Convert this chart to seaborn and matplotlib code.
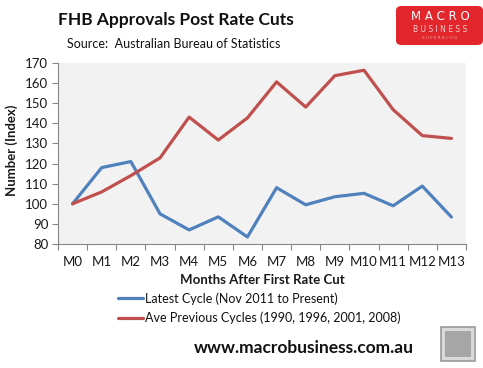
import matplotlib
matplotlib.use("Agg")
import matplotlib.pyplot as plt
import seaborn as sns
import pandas as pd
import numpy as np
from matplotlib.patches import FancyBboxPatch, Rectangle
from matplotlib.ticker import MultipleLocator, FixedLocator
from matplotlib.lines import Line2D

months = ["M0", "M1", "M2", "M3", "M4", "M5", "M6", "M7", "M8", "M9", "M10", "M11", "M12", "M13"]
latest = [100, 118, 121, 95, 87, 93.5, 83.5, 108, 99.5, 103.5, 105.2, 99, 108.8, 93.4]
previous = [100, 105.9, 114, 122.8, 143.1, 131.7, 142.7, 160.6, 148.1, 163.7, 166.4, 146.8, 133.9, 132.5]
series_names = ["Latest Cycle (Nov 2011 to Present)", "Ave Previous Cycles (1990, 1996, 2001, 2008)"]
colors = ["#4F81BD", "#C0504D"]

df = pd.DataFrame({
    "pos": list(range(len(months))) * 2,
    "value": latest + previous,
    "series": [series_names[0]] * len(months) + [series_names[1]] * len(months),
})

sns.set_style("white")
plt.rcParams["font.family"] = ["Lato", "DejaVu Sans"]

fig = plt.figure(figsize=(4.83, 3.68), dpi=100)
ax = fig.add_axes([58 / 483, 1 - 244 / 368, (466 - 58) / 483, (244 - 63) / 368])
ax.set_facecolor("#F2F2F2")

sns.lineplot(data=df, x="pos", y="value", hue="series", palette=colors,
             linewidth=2.3, ax=ax, legend=False)

ax.set_xlim(-0.5, len(months) - 0.5)
ax.set_ylim(80, 170)
ax.yaxis.set_major_locator(MultipleLocator(10))
ax.set_xticks(range(len(months)))
ax.set_xticklabels(months)
ax.xaxis.set_minor_locator(FixedLocator(np.arange(-0.5, len(months), 1.0)))
ax.tick_params(axis="x", which="major", length=0, pad=8.5, labelsize=9.5, colors="#1a1a1a")
ax.tick_params(axis="x", which="minor", length=4, width=0.8, color="#868686", direction="out", bottom=True)
ax.tick_params(axis="y", which="major", length=4, width=0.8, color="#868686", direction="out", left=True,
               labelsize=9.5, labelcolor="#1a1a1a", pad=3)
for s in ["top", "right"]:
    ax.spines[s].set_visible(False)
for s in ["left", "bottom"]:
    ax.spines[s].set_color("#868686")
    ax.spines[s].set_linewidth(0.8)

ax.set_xlabel("")
ax.set_ylabel("")
fig.text(12 / 483, 1 - 150 / 368, "Number (Index)", rotation=90, ha="center", va="center",
         fontsize=9.5, fontweight="bold", color="#1a1a1a")
fig.text(262 / 483, 1 - 280 / 368, "Months After First Rate Cut", ha="center", va="center",
         fontsize=9.5, fontweight="bold", color="#1a1a1a")

# Title & source
fig.text(58 / 483, 1 - 20 / 368, "FHB Approvals Post Rate Cuts", ha="left", va="center",
         fontsize=12.5, fontweight="bold", color="#111111")
fig.text(67 / 483, 1 - 44 / 368, "Source:  Australian Bureau of Statistics", ha="left", va="center",
         fontsize=9, color="#111111")

# Legend
handles = [Line2D([0], [0], color=c, linewidth=2.3) for c in colors]
leg = fig.legend(handles, series_names, loc="upper left", bbox_to_anchor=(118 / 483, 1 - 292 / 368),
                 frameon=False, fontsize=9, handlelength=2.0, handletextpad=0.15, labelspacing=0.55,
                 borderaxespad=0, borderpad=0)
for t in leg.get_texts():
    t.set_color("#111111")

# Footer
fig.text(304 / 483, 1 - 348 / 368, "www.macrobusiness.com.au", ha="center", va="center",
         fontsize=12.5, fontweight="bold", color="#111111")

# Logo
logo = FancyBboxPatch((396 / 483, 1 - 45 / 368), 87 / 483, 39 / 368,
                      boxstyle="round,pad=0,rounding_size=0.012", transform=fig.transFigure,
                      facecolor="#E3262C", edgecolor="none")
fig.patches.append(logo)
fig.text(440 / 483, 1 - 16 / 368, "M A C R O", ha="center", va="center", fontsize=8.5, color="white",
         fontfamily=["DejaVu Sans"])
fig.text(440 / 483, 1 - 29 / 368, "B U S I N E S S", ha="center", va="center", fontsize=5.5, color="#f5d0d0",
         fontfamily=["DejaVu Sans"])
fig.text(440 / 483, 1 - 38 / 368, "S U P E R B L O G", ha="center", va="center", fontsize=3, color="#f2a0a0",
         fontfamily=["DejaVu Sans"])

# Fox box
fox = Rectangle((441 / 483, 1 - 361 / 368), 34 / 483, 34 / 368, transform=fig.transFigure,
                facecolor="#d9d9d9", edgecolor="#9a9a9a", linewidth=1.2)
fig.patches.append(fox)
fox_in = Rectangle((445 / 483, 1 - 357 / 368), 26 / 483, 26 / 368, transform=fig.transFigure,
                   facecolor="#a6a6a6", edgecolor="none")
fig.patches.append(fox_in)

fig.savefig("out.png", dpi=100)
